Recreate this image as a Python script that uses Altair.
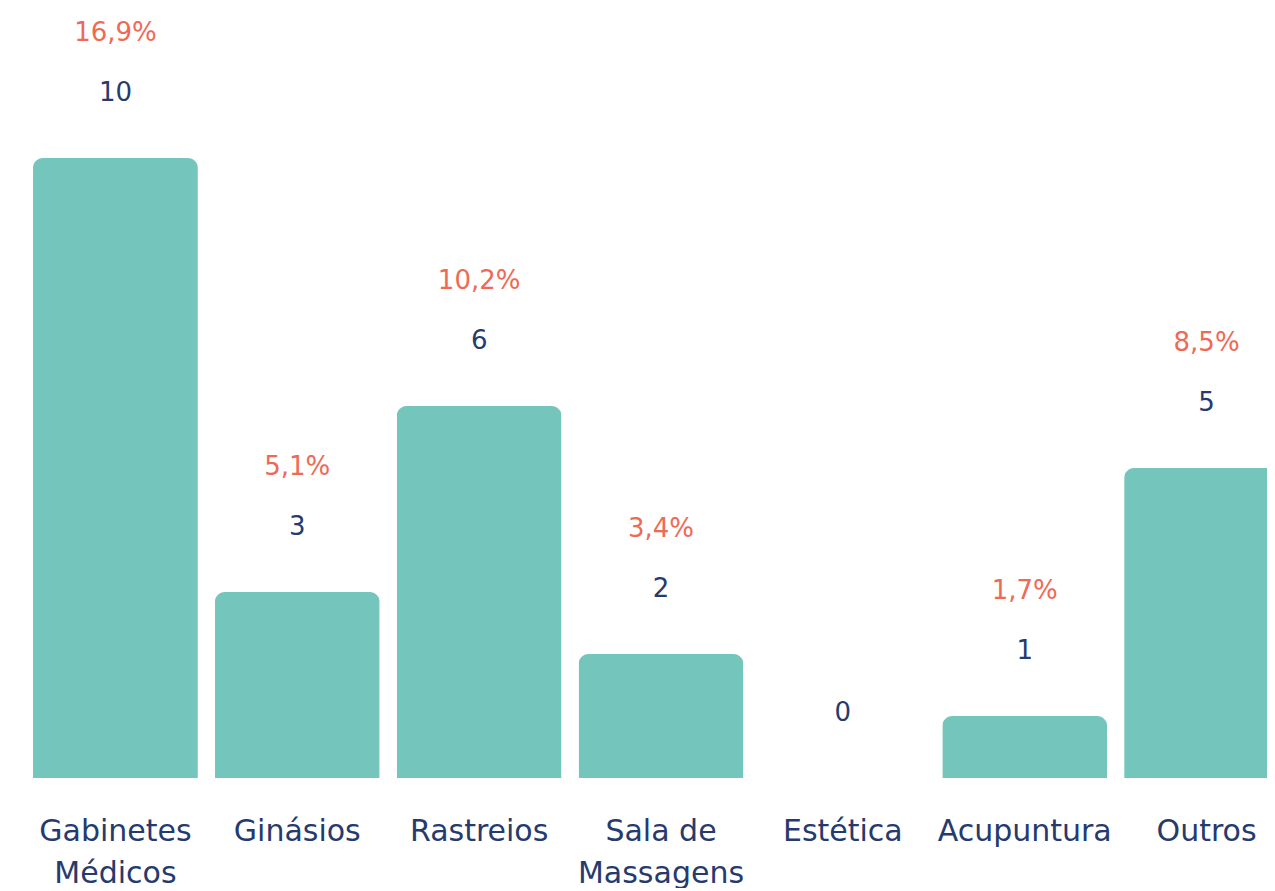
import altair as alt
import pandas as pd

categories = ["Gabinetes\nMédicos", "Ginásios", "Rastreios", "Sala de\nMassagens",
              "Estética", "Acupuntura", "Outros"]
counts = [10, 3, 6, 2, 0, 1, 5]
percents = ["16,9%", "5,1%", "10,2%", "3,4%", "", "1,7%", "8,5%"]

df = pd.DataFrame({"cat": categories, "n": counts, "pct": percents})

TEAL = "#74C5BB"
NAVY = "#263A6E"
CORAL = "#EF6A55"
FONT = "DejaVu Sans"

x = alt.X(
    "cat:N",
    sort=categories,
    scale=alt.Scale(range=[0, 1274], paddingInner=17 / 182, paddingOuter=9 / 182),
    axis=alt.Axis(
        title=None, labelAngle=0, domain=False, ticks=False,
        labelFontSize=30, labelColor=NAVY, labelFont=FONT,
        labelPadding=38, labelLineHeight=42, labelBaseline="top",
        labelExpr="split(datum.label, '\\n')",
    ),
)
y = alt.Y("n:Q", scale=alt.Scale(domain=[0, 10], nice=False, zero=True), axis=None)

base = alt.Chart(df).encode(x=x, y=y)

bars = base.mark_bar(color=TEAL, cornerRadiusTopLeft=10, cornerRadiusTopRight=10)
cnt = base.mark_text(dy=-65, fontSize=26, color=NAVY, font=FONT, baseline="middle").encode(
    text="n:Q")
pct = base.mark_text(dy=-125, fontSize=26, color=CORAL, font=FONT, baseline="middle").encode(
    text="pct:N")

chart = (bars + cnt + pct).properties(
    width=1243, height=620,
    autosize=alt.AutoSizeParams(type="none"),
    padding={"left": 16, "top": 150, "right": 0, "bottom": 110},
).configure_view(strokeWidth=0)

chart.save("out.html", embed_options={"renderer": "svg", "actions": False})
